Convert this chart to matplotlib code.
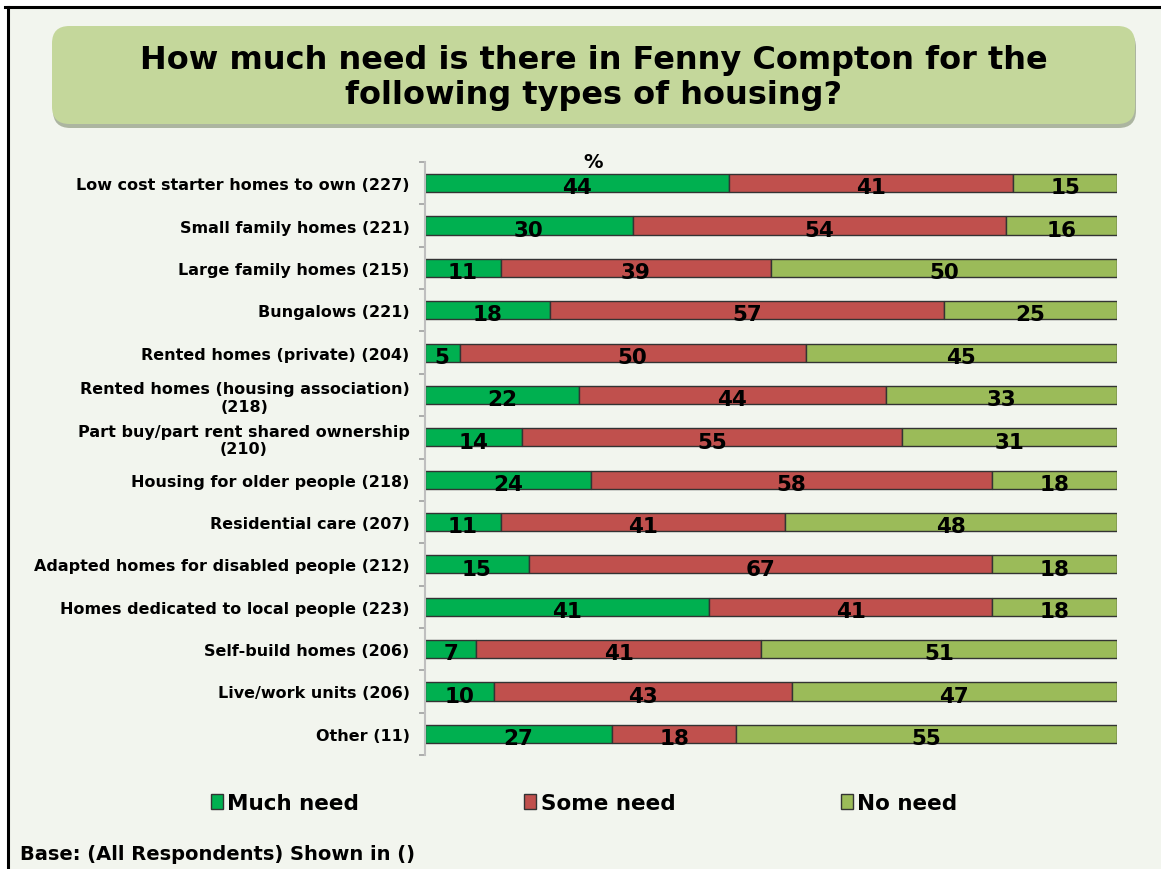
import matplotlib.pyplot as plt
from matplotlib.patches import FancyBboxPatch, Rectangle, Patch
import numpy as np

categories = [
    "Low cost starter homes to own (227)",
    "Small family homes (221)",
    "Large family homes (215)",
    "Bungalows (221)",
    "Rented homes (private) (204)",
    "Rented homes (housing association)\n(218)",
    "Part buy/part rent shared ownership\n(210)",
    "Housing for older people (218)",
    "Residential care (207)",
    "Adapted homes for disabled people (212)",
    "Homes dedicated to local people (223)",
    "Self-build homes (206)",
    "Live/work units (206)",
    "Other (11)",
]
much_need = [44, 30, 11, 18, 5, 22.2, 14, 24, 11, 15, 41, 7.4, 10, 27]
some_need = [41, 54, 39, 57, 50, 44.4, 55, 58, 41, 67, 41, 41.2, 43, 18]
no_need = [15, 16, 50, 25, 45, 33.4, 31, 18, 48, 18, 18, 51.4, 47, 55]
series_names = ["Much need", "Some need", "No need"]
colors = ["#00b050", "#c0504d", "#9bbb59"]

W, H = 1161, 870
fig = plt.figure(figsize=(W / 100, H / 100), dpi=100)
fig.patch.set_facecolor("white")

# slide background and border
fig.patches.append(Rectangle((8 / W, 0), 1, 1 - 8 / H, transform=fig.transFigure,
                             facecolor="#f2f5ee", edgecolor="none", zorder=-3))
fig.add_artist(plt.Line2D([5 / W, 1], [1 - 8 / H, 1 - 8 / H], color="black", lw=2.2,
                          transform=fig.transFigure))
fig.add_artist(plt.Line2D([8 / W, 8 / W], [0, 1 - 8 / H], color="black", lw=2.2,
                          transform=fig.transFigure))

# title box with shadow
bx, by, bw, bh = 52 / W, 1 - 125 / H, (1135 - 52) / W, 98 / H
shadow = FancyBboxPatch((bx + 1 / W, by - 4 / H), bw, bh, boxstyle="round,pad=0,rounding_size=0.015",
                        transform=fig.transFigure, facecolor="#8f9a80", edgecolor="none",
                        alpha=0.7, mutation_aspect=W / H, zorder=-2)
box = FancyBboxPatch((bx, by), bw, bh, boxstyle="round,pad=0,rounding_size=0.015",
                     transform=fig.transFigure, facecolor="#c4d79b", edgecolor="none",
                     mutation_aspect=W / H, zorder=-1)
fig.patches.extend([shadow, box])
fig.text(594 / W, 1 - 78 / H,
         "How much need is there in Fenny Compton for the\nfollowing types of housing?",
         ha="center", va="center", fontsize=23, fontweight="bold", linespacing=1.2)

ax = fig.add_axes([425 / W, 1 - 756 / H, 692 / W, 593 / H])
ax.set_facecolor("none")

y = np.arange(len(categories))
left = np.zeros(len(categories))
for vals, name, col in zip([much_need, some_need, no_need], series_names, colors):
    vals = np.array(vals, dtype=float)
    ax.barh(y, vals, left=left, height=0.43, color=col, edgecolor="#333333",
            linewidth=1, label=name)
    for yi, l, v in zip(y, left, vals):
        ax.text(l + v / 2, yi + 0.1, f"{v:.0f}", ha="center", va="center",
                fontsize=15.5, fontweight="bold", color="black")
    left += vals

ax.set_xlim(0, 100)
ax.set_ylim(len(categories) - 0.5, -0.5)
ax.set_yticks(y)
ax.set_yticklabels(categories, fontsize=11.5, fontweight="bold")
for t in ax.get_yticklabels():
    t.set_multialignment("center")
ax.set_yticks(np.arange(-0.5, len(categories), 1), minor=True)
ax.tick_params(axis="y", which="major", length=0, pad=11)
ax.tick_params(axis="y", which="minor", length=4, color="#a0a0a0", width=1.2)
ax.set_xticks([])
for s in ["top", "right", "bottom"]:
    ax.spines[s].set_visible(False)
ax.spines["left"].set_color("#bfbfbf")
ax.spines["left"].set_linewidth(1.5)

fig.text(593 / W, 1 - 163 / H, "%", ha="center", va="center", fontsize=14, fontweight="bold")

handles = [Patch(facecolor=c, edgecolor="#333333", label=n) for c, n in zip(colors, series_names)]
fig.legend(handles=handles, loc="center", bbox_to_anchor=(584 / W, 1 - 804 / H), ncol=3,
           frameon=False, prop={"size": 15.5, "weight": "bold"}, handlelength=0.55,
           handleheight=0.7, handletextpad=0.2, columnspacing=7.7)

fig.text(20 / W, 1 - 855 / H, "Base: (All Respondents) Shown in ()", ha="left", va="center",
         fontsize=14, fontweight="bold")

fig.savefig("out.png", dpi=100)
